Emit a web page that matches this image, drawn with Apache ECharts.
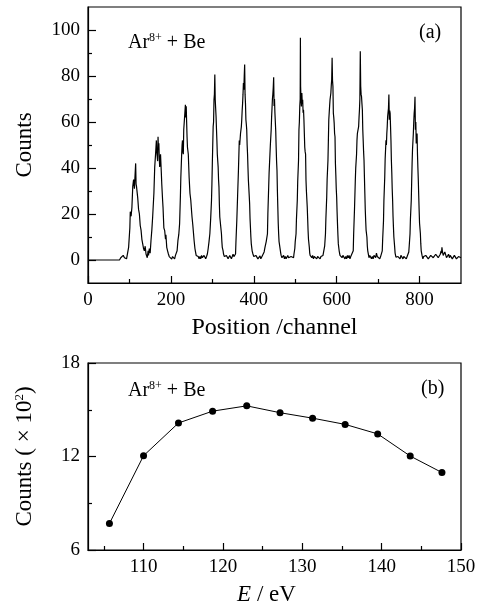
<!doctype html>
<html>
<head>
    <meta charset="utf-8">
    <title>Ar8+ + Be spectrum</title>
    <style>
        html,body{margin:0;padding:0;background:#fff;}
        #ID-Chart{width:487px;height:607px;}
    </style>
</head>
<body>
    <div id="ID-Chart"></div>
    <script src="https://cdn.jsdelivr.net/npm/echarts@6/dist/echarts.min.js"></script>
    <script>
        /*=========================
          Data
          ===========================*/
        //(a) position spectrum: [channel, counts]
        var spectrum=[
            [0,0],[76,0],[79,1],[82,0.5],[85,2],[88,1],[91,1.5],[93,0.5],
            [95,1],[98,5.5],[101,14],[102,21],[104,19],[106,23],[108,32],[110,35],[112,31],[113,35],[115,42],[116,33],[117,32],[120,27],[122,22],[124,20],[126,15],[128,13],[130,9],[132,7],[134,5],[136,4],[138,6],[140,2.6],[143,1],[145,4],[146,2],[148,5],[150,3],
            [152,8.5],[154,13],[156,18.7],[159,29],[161,40.5],[163,46],[164,49],[165,52],[166,47],[168,43],[169,53.6],[170,48],[171,50.7],[172,44],[173,40.5],[175,46],[177,37.6],[178,33],[180,26],[181,23],[183,14],[185,12.8],[187,9],[188,11],[190,5.5],[192,4],[194,2.6],[196,1.5],[198,1],[200,2],[202,0.4],[204,1.5],[207,1],[209,0.5],[211,2],[213,1.5],[215,4],
            [217,8.5],[219,11],[221,15.7],[223,28],[224,36],[226,46],[227,50],[228,52],[229,47],[230,46],[231,56.6],[233,62],[235,67.5],[236,62],[237,66.8],[238,60],[239,53.6],[240,49],[242,46],[244,36],[246,29],[248,26],[250,21],[251,18.7],[253,15],[254,12.8],[256,8.5],[258,5],[259,4],[261,2],[262,1.2],[264,2],[266,1.5],[268,0.5],[270,1.5],[272,0.5],[274,2],[276,1],[278,0.8],[280,2],[282,1.5],[284,0.5],[286,1.5],[288,2.6],[290,5],
            [292,8],[294,11.4],[296,18],[298,26],[299,33],[300,42],[301,50],[302,58],[303,60],[304,69.7],[305,72],[306,80.6],[307,69.7],[308,66],[309,62.4],[310,57],[311,52],[312,46],[314,40.5],[315,35],[316,31.8],[317,24],[318,18.7],[320,15],[322,11.4],[323,8],[324,5.5],[326,4],[327,2.6],[329,1.5],[332,1],[334,2],[336,1.5],[338,0.5],[340,0.5],[342,2],[344,2],[346,0.5],[348,1],[350,2.5],[352,1.5],[354,1],[356,2.6],
            [357,8],[359,17],[361,28],[363,39],[365,52],[366,50],[368,55],[370,58],[371,61],[372,65],[373,68],[374,72],[375,77],[376,74],[377,80],[378,85],[379,72],[380,68],[381,61],[382,59],[383,56.6],[384,50],[385,46],[386,40],[387,34.7],[389,28],[390,24.5],[391,18],[392,14],[393,10],[394,7],[396,4],[398,2.6],[400,1.5],[403,1],[405,2],[408,1.5],[410,0.5],[413,0.5],[415,1.8],[417,0.5],[419,1.2],[421,2],[423,2.6],[425,3.5],[427,5.5],[430,8],
            [433,11.4],[434,20],[436,32],[437,38],[439,46],[440,50],[442,56.6],[443,62],[444,66],[445,70],[446,72],[447,75],[448,79.5],[449,67],[450,70],[451,64],[452,63.8],[453,56],[454,49],[455,43],[456,39],[457,30],[458,23],[459,16],[460,11.4],[461,8],[463,5.5],[465,3],[466,2],[468,1],[470,1],[472,2],[474,0.5],[476,1.5],[478,0.5],[480,0.5],[482,2],[484,1],[486,1.8],[488,0.5],[490,1.5],[492,1],[494,2],[496,1],[497,2.6],[499,5],
            [500,8],[502,11.4],[503,18],[505,26],[506,34],[508,43.4],[509,56.6],[510,60],[511,66.8],[512,70],[512.5,96.6],[513,75.5],[514,70],[515,66.8],[516,72.6],[517,68],[518,69.7],[519,64],[520,65.3],[521,61],[522,55],[523,49],[524,47],[525,46],[526,34.7],[527,30],[529,23],[530,18],[531,12.8],[532,9],[534,5.5],[535,3],[536,2],[538,1.5],[540,1],[542,2],[544,0.5],[546,1.5],[548,1],[550,2],[552,0.5],[554,1.5],[556,1],[558,2],[560,0.5],[562,1.5],[565,1],[567,2],[570,2.6],[571,6],
            [573,11.4],[574,18],[576,27.4],[577,35],[579,43.4],[580,52],[581,61],[582,64],[583,67],[584,69.7],[585,70],[586,72.6],[587,76],[588,78.4],[589,87.9],[590,78],[591,75.5],[592,63.8],[593,62],[594,59.5],[595,55],[596,53.6],[597,42],[598,37],[599,31],[600,27.4],[601,21],[602,15.7],[603,11],[604,7],[606,4],[608,2],[610,1.5],[613,1],[615,2],[618,1.5],[620,0.5],[622,1.5],[624,0.5],[626,2],[628,1],[630,2],[632,0.5],[634,1.5],[636,1],[638,2],[640,4],
            [641,11.4],[643,22],[645,34.7],[646,40],[648,46],[649,52],[650,55],[651,56],[653,58],[654,62],[655,65.3],[656,70],[657,90.8],[658,75.5],[659,72],[660,71],[661,68],[662,65.3],[663,56.6],[664,52],[665,47],[666,43.4],[667,36],[668,28.9],[669,22],[670,17.2],[671,13],[673,9.9],[674,6],[675,4],[677,2],[678,1],[680,2],[682,1.5],[684,0.5],[686,1.5],[688,0.5],[690,2],[692,2.5],[694,1],[696,3],[698,1.5],[700,1],[702,2],[704,0.5],[706,1.5],[708,2],[710,4],
            [711,9],[713,17],[714,26],[716,36],[717,44],[719,52],[720,50],[721,55],[722,58],[723,62.4],[724,63],[725,66],[726,71.9],[727,61],[728,65],[729,63.8],[730,58],[731,52],[732,43.4],[733,38],[734,31],[735,26],[736,19],[737,14.3],[738,10],[740,5.5],[741,3],[743,1.2],[745,2],[748,1.5],[750,1],[753,0.5],[755,2],[758,2],[760,0.5],[762,1.5],[764,1],[766,2],[768,0.5],[770,1.5],[772,2],[774,3.5],[775,6],
            [777,11.4],[778,18],[780,26],[781,34],[782,42],[783,48],[785,55],[786,60],[787,63.8],[788,66],[789,71],[790,56.6],[791,60],[792,50.7],[793,53],[794,55],[795,46],[796,40],[797,34.7],[798,28],[799,21.6],[800,16],[802,11.4],[803,7],[804,4],[806,2],[808,0.5],[810,1.5],[812,1],[815,2],[818,1.5],[821,0.5],[824,0.5],[827,2],[830,1.5],[833,1],[836,1],[839,2.5],[842,2],[845,1],[848,1.5],[850,2.5],[852,4],[853,3],[854,5.5],[855,4],[857,2],[859,1.5],[861,3.5],[863,3],[865,1],[867,1.5],[870,2.5],[872,1],[874,2],[877,2.5],[879,0.5],[882,1],[884,2],[887,2],[889,0.5],[892,0.5],[894,1.5],[897,2],[900,1]
        ];
        //(b) counts vs. energy
        var energy=[105.7,110.0,114.4,118.7,123.0,127.2,131.3,135.4,139.5,143.6,147.6];
        var countsE=[7.70,12.05,14.15,14.91,15.25,14.81,14.46,14.06,13.45,12.03,10.97];
        //ticks
        var channelTicks=[0,200,400,600,800];
        var channelMinor=[100,300,500,700];
        var countTicks=[0,20,40,60,80,100];
        var countMinor=[10,30,50,70,90];
        var energyTicks=[110,120,130,140,150];
        var energyMinor=[105,115,125,135,145];
        var countsETicks=[6,12,18];
        var countsEMinor=[9,15];

        var FONT="'Liberation Serif','Times New Roman',serif";

        var view={
            initialize:function(){
                this.divChart=document.getElementById("ID-Chart");
                this.chart=echarts.init(this.divChart,null,{renderer:'canvas'});
                this.render();
            },
            render:function(){
                this.chart.setOption(this._option());
            },
            //major axis: labels + long ticks
            _axis:function(grid,pos,min,max,labels,len,extra){
                var a={
                    gridIndex:grid,type:'value',position:pos,min:min,max:max,
                    axisLine:{show:true,onZero:false,lineStyle:{color:'#000',width:1.2}},
                    axisTick:{show:true,inside:true,length:len,customValues:labels,lineStyle:{color:'#000',width:1.2}},
                    axisLabel:{show:true,customValues:labels,color:'#000',fontFamily:FONT,fontSize:19},
                    splitLine:{show:false}
                };
                for(var k in extra){a[k]=extra[k];}
                return a;
            },
            //minor axis: short ticks only, same side as the major one
            _minor:function(grid,pos,min,max,ticks){
                return {
                    gridIndex:grid,type:'value',position:pos,min:min,max:max,
                    axisLine:{show:false,onZero:false},
                    axisTick:{show:true,inside:true,length:4,customValues:ticks,lineStyle:{color:'#000',width:1.2}},
                    axisLabel:{show:false},
                    splitLine:{show:false}
                };
            },
            _option:function(){
                var pointsE=energy.map(function(e,i){return [e,countsE[i]];});
                var gridStyle={show:true,borderColor:'#000',borderWidth:1.2,backgroundColor:'transparent'};
                return {
                    backgroundColor:'#fff',
                    animation:false,
                    grid:[
                        Object.assign({left:88,top:7,width:373,height:276},gridStyle),
                        Object.assign({left:88,top:363,width:373,height:189},gridStyle)
                    ],
                    xAxis:[
                        this._axis(0,'bottom',0,900,channelTicks,7,{
                            name:'Position /channel',nameLocation:'middle',nameGap:33,
                            nameTextStyle:{color:'#000',fontFamily:FONT,fontSize:24}
                        }),
                        this._minor(0,'bottom',0,900,channelMinor),
                        this._axis(1,'bottom',103,150,energyTicks,7,{
                            name:'{i|E} / eV',nameLocation:'middle',nameGap:33,
                            nameTextStyle:{color:'#000',fontFamily:FONT,fontSize:23,padding:[0,16,0,0],
                                rich:{i:{fontStyle:'italic',fontFamily:FONT,fontSize:23,color:'#000'}}}
                        }),
                        this._minor(1,'bottom',103,150,energyMinor)
                    ],
                    yAxis:[
                        this._axis(0,'left',-10,110,countTicks,8,{
                            name:'Counts',nameLocation:'middle',nameRotate:90,nameGap:52,
                            nameTextStyle:{color:'#000',fontFamily:FONT,fontSize:23}
                        }),
                        this._minor(0,'left',-10,110,countMinor),
                        this._axis(1,'left',6,18,countsETicks,8,{
                            name:'Counts ( \u00d7 10{sup|2})',nameLocation:'middle',nameRotate:90,nameGap:52,
                            nameTextStyle:{color:'#000',fontFamily:FONT,fontSize:23,
                                rich:{sup:{fontFamily:FONT,fontSize:13,color:'#000',verticalAlign:'top',padding:[0,0,10,0]}}}
                        }),
                        this._minor(1,'left',6,18,countsEMinor)
                    ],
                    graphic:[
                        this._label(128,44,'{n|Ar}{s|8+}{n| + Be}'),
                        this._label(128,392,'{n|Ar}{s|8+}{n| + Be}'),
                        {type:'text',left:419,top:23,style:{text:'(a)',fill:'#000',font:'20px '+FONT}},
                        {type:'text',left:421,top:379,style:{text:'(b)',fill:'#000',font:'20px '+FONT}}
                    ],
                    series:[
                        {
                            type:'line',xAxisIndex:0,yAxisIndex:0,
                            data:spectrum,showSymbol:false,symbol:'none',
                            lineStyle:{color:'#000',width:1.2}
                        },
                        {
                            type:'line',xAxisIndex:2,yAxisIndex:2,
                            data:pointsE,symbol:'circle',symbolSize:7,
                            itemStyle:{color:'#000'},
                            lineStyle:{color:'#000',width:1}
                        }
                    ]
                };
            },
            _label:function(x,y,txt){
                return {
                    type:'text',left:x,top:y-12,
                    style:{
                        text:txt,fill:'#000',
                        rich:{
                            n:{fontFamily:FONT,fontSize:20,color:'#000'},
                            s:{fontFamily:FONT,fontSize:12,color:'#000',padding:[0,0,9,0]}
                        }
                    }
                };
            }
        };

        window.addEventListener("load",function(){
            view.initialize();
        },false);
    </script>
</body>
</html>
